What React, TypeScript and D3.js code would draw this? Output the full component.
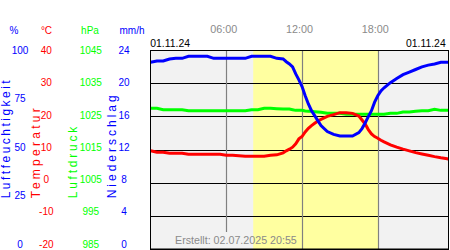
import React from "react";
import * as d3 from "d3";

const hours = [0,0.5,1,1.5,2,2.5,3,3.5,4,4.5,5,5.5,6,6.5,7,7.5,8,8.5,9,9.5,10,10.5,
  10.75,11,11.25,11.5,11.75,12,12.25,12.5,12.75,13,13.25,
  13.5,14,14.5,15,15.5,16,16.5,
  16.75,17,17.25,17.5,17.75,18,18.25,
  18.5,19,19.5,20,20.5,21,21.5,22,22.5,23,23.5,23.67];

const humidity = [93.8,94.5,94.5,95.5,95.8,95.8,96.8,96.8,96.8,96.8,95.8,95.8,95.8,95.8,95.8,95.8,96.8,96.8,96.8,96.8,95.8,95.5,
  94.1,93,91.5,88,85,81.6,77,72.9,69.5,67,64.5,
  62,59,57.6,56.8,56.8,56.8,58.5,
  60.5,63.3,66.5,69.5,73.8,77,79.4,
  81,83.6,85.7,87.6,88.9,90.2,91.5,92.4,93,93.8,93.8,93.8];

const temperature = [9.6,9.15,9.15,8.85,8.85,8.85,8.55,8.55,8.55,8.55,8.55,8.55,8.25,8.25,8.1,7.95,7.95,7.95,7.95,8.25,8.4,9.0,
  9.6,10.1,10.7,11.7,13.2,13.9,15.3,16.4,17.2,17.9,18.6,
  19.1,20.0,20.5,21.1,21.1,20.9,20.1,
  18.9,17.7,16.0,14.7,13.9,13.4,12.8,
  12.3,11.4,10.7,10.1,9.6,9.05,8.65,8.25,7.85,7.5,7.2,7.05];

const pressure = [1027.4,1027.4,1027.0,1027.0,1027.0,1027.0,1026.7,1026.7,1026.7,1026.7,1026.7,1026.7,1026.7,1026.7,1026.7,1026.7,1027.0,1027.0,1027.4,1027.4,1027.3,1027.2,
  1027.2,1027.2,1027.0,1026.8,1026.8,1026.8,1026.6,1026.5,1026.5,1026.4,1026.3,
  1026.2,1025.9,1025.9,1025.9,1025.6,1025.6,1025.6,
  1025.6,1025.6,1025.6,1025.6,1025.6,1025.6,1025.6,
  1025.6,1025.9,1025.9,1026.3,1026.3,1026.5,1026.7,1026.7,1027.1,1026.8,1026.8,1026.8];

const humidityTicks = [100, 75, 50, 25, 0];
const temperatureTicks = [40, 30, 20, 10, 0, -10, -20];
const pressureTicks = [1045, 1035, 1025, 1015, 1005, 995, 985];
const precipTicks = [24, 20, 16, 12, 8, 4, 0];
const timeTicks = [6, 12, 18];
const timeLabels = ["06:00", "12:00", "18:00"];
const daylight = [8.13, 18.03];
const dateLabel = "01.11.24";
const createdLabel = "Erstellt: 02.07.2025 20:55";

const FONT = "'Liberation Sans', Arial, sans-serif";
const BLUE = "#0000ff";
const RED = "#ff0000";
const GREEN = "#00ff00";

export default function App() {
  const left = 150, right = 449, top = 50, bottom = 249;
  const x = d3.scaleLinear().domain([0, 24]).range([150.6, 453.5]);
  const yHum = d3.scaleLinear().domain([0, 100]).range([bottom, top]);
  const yTemp = d3.scaleLinear().domain([-20, 40]).range([bottom, top]);
  const yPres = d3.scaleLinear().domain([985, 1045]).range([bottom, top]);
  const yPrec = d3.scaleLinear().domain([0, 24]).range([bottom, top]);
  // label baselines (clamped inside the plot height)
  const lHum = d3.scaleLinear().domain([0, 100]).range([247.7, 54]);
  const lTemp = d3.scaleLinear().domain([-20, 40]).range([247.7, 54]);
  const lPres = d3.scaleLinear().domain([985, 1045]).range([247.7, 54]);
  const lPrec = d3.scaleLinear().domain([0, 24]).range([247.7, 54]);

  const mk = (vals: number[], y: d3.ScaleLinear<number, number>) =>
    d3.line<number>().x((_, i) => x(hours[i])).y((v) => y(v))(vals) || "";

  return (
    <svg width={450} height={250} style={{ position: "fixed", left: 0, top: 0, background: "#fff" }} fontFamily={FONT}>
      <defs>
        <clipPath id="plot">
          <rect x={left} y={top} width={right - left} height={bottom - top} />
        </clipPath>
      </defs>
      {/* headers */}
      <text x={14} y={34} fontSize={10} fill={BLUE} textAnchor="middle">%</text>
      <text x={46.5} y={34} fontSize={10} fill={RED} textAnchor="middle">°C</text>
      <text x={90} y={34} fontSize={10} fill={GREEN} textAnchor="middle">hPa</text>
      <text x={132} y={34} fontSize={10} fill={BLUE} textAnchor="middle">mm/h</text>

      {humidityTicks.map((t) => (
        <text key={"h" + t} x={20} y={lHum(t)} fontSize={10} fill={BLUE} textAnchor="middle">{t}</text>
      ))}
      {temperatureTicks.map((t) => (
        <text key={"t" + t} x={46.3} y={lTemp(t)} fontSize={10} fill={RED} textAnchor="middle">{t}</text>
      ))}
      {pressureTicks.map((t) => (
        <text key={"p" + t} x={90.8} y={lPres(t)} fontSize={10} fill={GREEN} textAnchor="middle">{t}</text>
      ))}
      {precipTicks.map((t) => (
        <text key={"r" + t} x={124} y={lPrec(t)} fontSize={10} fill={BLUE} textAnchor="middle">{t}</text>
      ))}

      {/* rotated axis titles */}
      <text transform="translate(9.5,198.3) rotate(-90)" fontSize={12} fill={BLUE} textLength={118} lengthAdjust="spacing">Luftfeuchtigkeit</text>
      <text transform="translate(39.5,198.3) rotate(-90)" fontSize={12} fill={RED} textLength={90} lengthAdjust="spacing">Temperatur</text>
      <text transform="translate(77,198.3) rotate(-90)" fontSize={12} fill={GREEN} textLength={71.5} lengthAdjust="spacing">Luftdruck</text>
      <text transform="translate(115.5,198.3) rotate(-90)" fontSize={12} fill={BLUE} textLength={103} lengthAdjust="spacing">Niederschlag</text>

      {/* time labels */}
      {timeTicks.map((t, i) => (
        <text key={"tt" + t} x={x(t) - 2.5} y={33.3} fontSize={10.8} fill="#8a8a8a" textAnchor="middle">{timeLabels[i]}</text>
      ))}
      <text x={150.3} y={46.7} fontSize={10.4} fill="#000">{dateLabel}</text>
      <text x={445.7} y={46.7} fontSize={10.4} fill="#000" textAnchor="end">{dateLabel}</text>

      {/* plot background */}
      <rect x={left} y={top} width={right - left} height={bottom - top} fill="#f2f2f2" />
      <rect x={x(daylight[0])} y={top} width={x(daylight[1]) - x(daylight[0])} height={bottom - top} fill="#ffffa0" />

      {/* horizontal grid */}
      {temperatureTicks.map((t) => (
        <line key={"g" + t} x1={left} x2={right} y1={Math.round(yTemp(t)) + 0.5} y2={Math.round(yTemp(t)) + 0.5} stroke="#000" strokeWidth={1} />
      ))}
      {/* vertical time lines */}
      {timeTicks.map((t, i) => (
        <line key={"v" + t} x1={Math.round(x(t)) + 0.5} x2={Math.round(x(t)) + 0.5} y1={top} y2={i === 0 ? 232 : bottom} stroke="#808080" strokeWidth={1.2} />
      ))}

      <text x={175} y={244.3} fontSize={10.7} fill="#8a8a8a">{createdLabel}</text>

      <g clipPath="url(#plot)" fill="none" strokeWidth={3}>
        <path d={mk(pressure, yPres)} stroke={GREEN} />
        <path d={mk(temperature, yTemp)} stroke={RED} />
        <path d={mk(humidity, yHum)} stroke={BLUE} />
      </g>

      <rect x={left + 0.5} y={top + 0.5} width={right - left - 1} height={bottom - top - 0.5} fill="none" stroke="#000" strokeWidth={1} />
    </svg>
  );
}
